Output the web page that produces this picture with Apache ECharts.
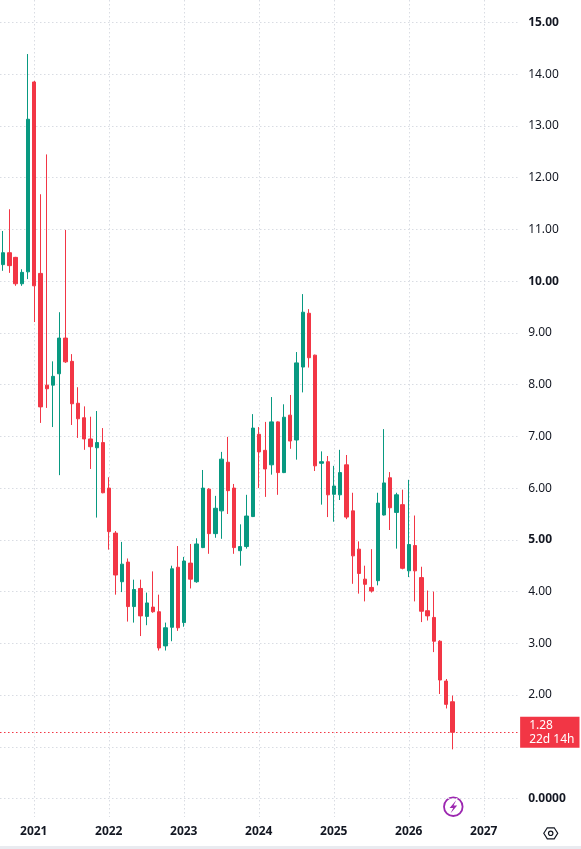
<!DOCTYPE html>
<html>
<head>
<meta charset="utf-8">
<title>Monthly candles</title>
<script src="https://cdn.jsdelivr.net/npm/echarts@6/dist/echarts.min.js"></script>
<style>
  html, body { margin: 0; padding: 0; background: #ffffff; }
  #chart { width: 581px; height: 849px; }
</style>
</head>
<body>
<div id="chart"></div>
<script>
/* =========================
 * Data (monthly candles)
 * ========================= */
var months = [
  '2020-08', '2020-09', '2020-10', '2020-11', '2020-12',
  '2021-01', '2021-02', '2021-03', '2021-04', '2021-05', '2021-06',
  '2021-07', '2021-08', '2021-09', '2021-10', '2021-11', '2021-12',
  '2022-01', '2022-02', '2022-03', '2022-04', '2022-05', '2022-06',
  '2022-07', '2022-08', '2022-09', '2022-10', '2022-11', '2022-12',
  '2023-01', '2023-02', '2023-03', '2023-04', '2023-05', '2023-06',
  '2023-07', '2023-08', '2023-09', '2023-10', '2023-11', '2023-12',
  '2024-01', '2024-02', '2024-03', '2024-04', '2024-05', '2024-06',
  '2024-07', '2024-08', '2024-09', '2024-10', '2024-11', '2024-12',
  '2025-01', '2025-02', '2025-03', '2025-04', '2025-05', '2025-06',
  '2025-07', '2025-08', '2025-09', '2025-10', '2025-11', '2025-12',
  '2026-01', '2026-02', '2026-03', '2026-04', '2026-05', '2026-06',
  '2026-07', '2026-08', '2026-09', '2026-10', '2026-11', '2026-12',
  '2027-01', '2027-02', '2027-03', '2027-04', '2027-05', '2027-06'
];

var opens = [
  10.32, 10.55, 10.46, 9.95, 10.18,
  13.85, 10.15, 7.99, 7.99, 8.21, 8.90, 8.45, 7.64, 7.36, 6.95, 6.78, 6.88,
  6.00, 5.13, 4.19, 4.57, 3.71, 4.06, 3.52, 3.70, 3.61, 2.95, 3.31, 4.47,
  3.40, 4.55, 4.19, 4.85, 5.98, 5.12, 5.56, 6.50, 6.00, 4.79, 4.87, 5.45,
  7.04, 6.73, 6.45, 7.28, 6.30, 7.41, 6.93, 8.34, 9.38, 8.57, 6.48, 6.51,
  5.88, 5.87, 6.45, 5.56, 4.82, 4.24, 4.08, 4.21, 5.48, 6.20, 5.53, 5.68,
  4.40, 4.89, 4.27, 3.63, 3.50, 3.04, 2.27, 1.87
];
var closes = [
  10.55, 10.30, 9.95, 10.17, 13.13,
  9.91, 7.57, 7.92, 8.16, 8.90, 8.44, 7.63, 7.34, 6.95, 6.80, 6.88, 5.91,
  5.16, 4.32, 4.53, 3.71, 4.04, 3.53, 3.78, 3.61, 2.91, 3.30, 4.44, 3.30,
  4.59, 4.24, 4.92, 6.00, 5.12, 5.61, 6.56, 5.95, 4.85, 4.87, 5.46, 7.16,
  6.70, 6.37, 7.28, 6.30, 7.37, 6.91, 8.42, 9.40, 8.52, 6.43, 6.51, 5.87,
  6.04, 6.30, 5.44, 4.69, 4.35, 4.14, 4.01, 5.71, 6.10, 5.62, 5.87, 4.45,
  4.91, 4.40, 3.62, 3.53, 3.04, 2.29, 1.82, 1.28
];
var lows = [
  10.20, 10.16, 9.91, 9.91, 10.04,
  9.21, 7.26, 7.55, 7.18, 6.25, 8.42, 7.22, 6.97, 6.74, 6.37, 5.43, 5.90,
  4.81, 3.94, 3.99, 3.42, 3.40, 3.14, 3.35, 3.59, 2.86, 2.86, 3.04, 3.24,
  3.32, 4.06, 4.17, 4.84, 4.73, 5.04, 5.02, 5.50, 4.73, 4.50, 4.83, 5.44,
  6.00, 5.83, 6.26, 5.87, 6.29, 6.76, 6.55, 7.85, 8.33, 6.33, 5.68, 5.44,
  5.35, 5.77, 5.40, 4.15, 3.96, 3.81, 3.98, 4.12, 5.47, 5.19, 4.83, 4.43,
  4.28, 3.81, 3.41, 3.44, 2.83, 2.02, 1.74, 0.95
];
var highs = [
  10.97, 11.39, 10.47, 10.23, 14.39,
  13.87, 11.68, 12.45, 8.45, 9.40, 10.99, 8.59, 7.95, 7.58, 7.38, 7.49, 7.16,
  6.21, 5.17, 4.96, 4.64, 4.23, 4.23, 3.98, 4.39, 3.94, 3.40, 4.50, 4.88,
  4.67, 4.92, 5.03, 6.35, 6.00, 5.85, 6.70, 6.99, 6.08, 5.30, 5.87, 7.43,
  7.18, 7.28, 7.76, 7.29, 7.62, 7.80, 8.63, 9.75, 9.46, 8.58, 6.71, 6.62,
  6.43, 6.74, 6.64, 5.91, 4.97, 4.50, 4.82, 5.91, 7.14, 6.31, 5.91, 5.97,
  6.16, 5.47, 4.48, 4.02, 4.00, 3.06, 2.31, 1.99
];

var lastPrice = 1.28;
var countdown = '22d 14h';

/* =========================
 * Styles
 * ========================= */
var UP = '#089981';
var DOWN = '#F23645';
var TEXT = '#131722';
var GRID = '#d9dce3';
var FONT = '"Noto Sans", "Open Sans", sans-serif';

var candles = opens.map(function (o, i) {
  return [o, closes[i], lows[i], highs[i]];
});

function isJanuary(v) {
  return v.slice(5) === '01';
}

var chart = echarts.init(document.getElementById('chart'), null, { renderer: 'canvas' });

var option = {
  backgroundColor: '#ffffff',
  animation: false,
  grid: [
    // background pane: vertical year lines + year labels
    { left: 2.5, top: 0, width: 512.5, height: 817 },
    // price pane: candles, price scale
    { left: -0.625, top: 22.5, width: 518.75, height: 776 }
  ],
  xAxis: [
    {
      type: 'category',
      gridIndex: 0,
      data: months,
      boundaryGap: false,
      axisLine: { show: false },
      axisTick: { show: false },
      axisLabel: {
        interval: function (idx, v) { return isJanuary(v); },
        formatter: function (v) { return v.slice(0, 4); },
        color: TEXT,
        fontSize: 12,
        fontWeight: 'bold',
        fontFamily: FONT,
        margin: 9
      },
      splitLine: {
        show: true,
        interval: function (idx, v) { return isJanuary(v); },
        lineStyle: { color: GRID, width: 1, type: [1.5, 2.5] }
      }
    },
    {
      type: 'category',
      gridIndex: 1,
      data: months,
      boundaryGap: true,
      show: false
    }
  ],
  yAxis: [
    {
      type: 'value',
      gridIndex: 0,
      show: false,
      splitLine: { show: false }
    },
    {
      type: 'value',
      gridIndex: 1,
      position: 'right',
      min: 0,
      max: 15,
      interval: 1,
      axisLine: { show: false },
      axisTick: { show: false },
      axisLabel: {
        margin: 10,
        color: TEXT,
        fontSize: 12,
        fontFamily: FONT,
        formatter: function (v) {
          if (v === 1) return '';             // hidden behind the price tag
          if (v === 0) return '{b|0.0000}';
          if (v % 5 === 0) return '{b|' + v.toFixed(2) + '}';
          return v.toFixed(2);
        },
        rich: {
          b: { fontWeight: 'bold', fontSize: 12, color: TEXT, fontFamily: FONT }
        }
      },
      splitLine: {
        show: true,
        lineStyle: { color: GRID, width: 1, type: [1.5, 2.5] }
      }
    }
  ],
  series: [{
    type: 'candlestick',
    xAxisIndex: 1,
    yAxisIndex: 1,
    data: candles,
    barWidth: 3.8,
    itemStyle: {
      color: UP,
      color0: DOWN,
      borderColor: UP,
      borderColor0: DOWN,
      borderWidth: 1
    },
    markLine: {
      silent: true,
      symbol: ['none', 'none'],
      data: [{ yAxis: lastPrice }],
      lineStyle: { color: DOWN, width: 1, type: [1.5, 2.5] },
      label: {
        show: true,
        position: 'end',
        distance: 2,
        formatter: lastPrice.toFixed(2) + '\n' + countdown,
        backgroundColor: DOWN,
        color: '#ffffff',
        fontSize: 12,
        fontFamily: FONT,
        lineHeight: 14,
        align: 'left',
        padding: [2, 5, 1, 9]
      }
    }
  }],
  graphic: [
    /* ---------- bottom border ---------- */
    {
      type: 'rect',
      shape: { x: 0, y: 846, width: 581, height: 3 },
      style: { fill: '#e9ebf0' }
    },
    /* ---------- lightning badge ---------- */
    {
      type: 'circle',
      shape: { cx: 453.3, cy: 806.7, r: 9.3 },
      style: { fill: 'none', stroke: '#9c27b0', lineWidth: 1.8 }
    },
    {
      type: 'polygon',
      shape: {
        points: [[456.2, 800.3], [449.6, 807.9], [453.2, 807.9], [450.6, 813.2],
                 [457.2, 805.5], [453.6, 805.5]]
      },
      style: { fill: '#9c27b0' }
    },
    /* ---------- settings icon ---------- */
    {
      type: 'polygon',
      shape: {
        points: [[543.8, 833.3], [547.3, 827.8], [554.2, 827.8], [557.7, 833.3],
                 [554.2, 838.8], [547.3, 838.8]]
      },
      style: { fill: 'none', stroke: TEXT, lineWidth: 1.2 }
    },
    {
      type: 'circle',
      shape: { cx: 550.7, cy: 833.3, r: 2.2 },
      style: { fill: 'none', stroke: TEXT, lineWidth: 1.2 }
    }
  ]
};

chart.setOption(option);
</script>
</body>
</html>
